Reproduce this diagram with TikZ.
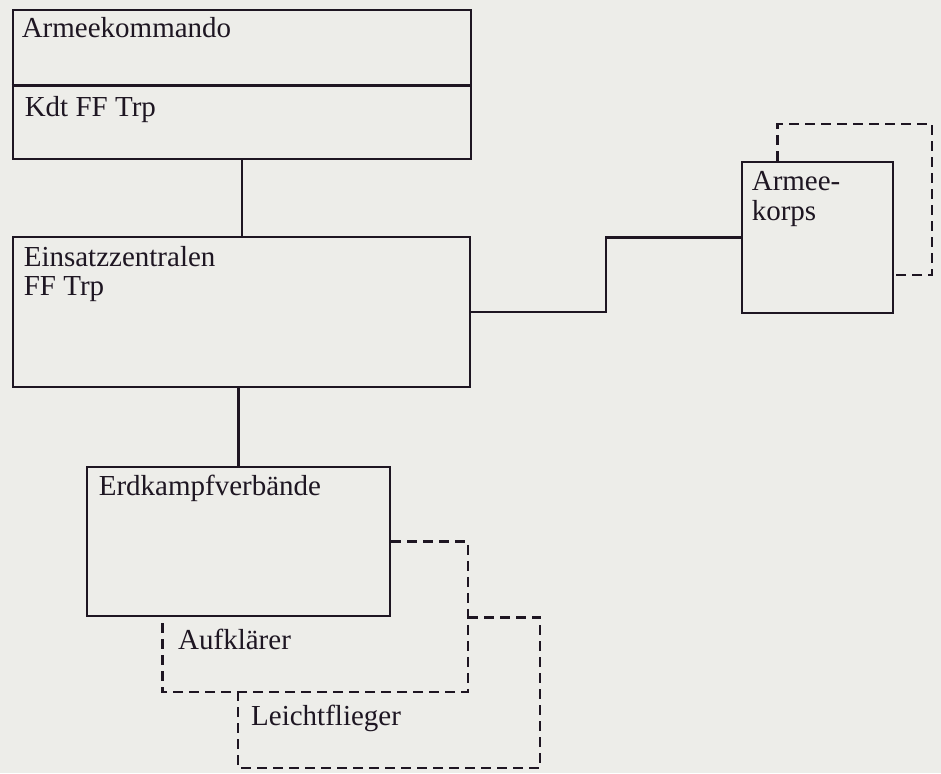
\documentclass[tikz,border=0pt]{standalone}
\usepackage{fontspec}
\setmainfont{Liberation Serif}
\usetikzlibrary{calc}
\definecolor{paper}{RGB}{237,237,233}
\definecolor{ink}{RGB}{30,22,34}
\begin{document}
\begin{tikzpicture}[x=1pt,y=-1pt,
  box/.style={draw=ink, line width=2.8pt, rectangle, inner sep=0pt},
  dbox/.style={draw=ink, line width=2.8pt, dash pattern=on 10pt off 6pt},
  conn/.style={draw=ink, line width=2.8pt},
  lbl/.style={anchor=base west, inner sep=0pt, text=ink, font=\fontsize{29}{31}\selectfont}]
\fill[paper] (0,0) rectangle (941,773);
\useasboundingbox (0,0) rectangle (941,773);

% boxes
\node[box, minimum width=458pt, minimum height=149pt] (ak) at (242,84.5) {};
\node[box, minimum width=457pt, minimum height=150pt] (ez) at (241.5,312) {};
\node[box, minimum width=151pt, minimum height=151pt] (korps) at (817.5,237.5) {};
\node[box, minimum width=303pt, minimum height=149pt] (ek) at (238.5,541.5) {};

% divider in Armeekommando box
\draw[conn] ([yshift=-77pt]ak.north west) -- ([yshift=-77pt]ak.north east);

% labels
\node[lbl] (t1) at ([shift={(10,29)}]ak.north west) {Armeekommando};
\node[lbl] (t2) at ([shift={(13,108)}]ak.north west) {Kdt FF Trp};
\node[lbl] (t3) at ([shift={(12,31)}]ez.north west) {Einsatzzentralen};
\node[lbl] (t4) at ([shift={(12,60)}]ez.north west) {FF Trp};
\node[lbl] (t5) at ([shift={(11,30)}]korps.north west) {Armee-};
\node[lbl] (t6) at ([shift={(11,60)}]korps.north west) {korps};
\node[lbl] (t7) at ([shift={(13,30)}]ek.north west) {Erdkampfverbände};

% solid connectors
\draw[conn] (ak.south) -- (ak.south |- ez.north);
\draw[conn] (ek.north |- ez.south) -- (ek.north);
\draw[conn] (ez.east) -| ($(ez.east)!.5!(korps.west)$) |- (korps.west);

% dashed box around Armeekorps
\coordinate (kNE) at (932,124);
\draw[dbox] ([xshift=37pt]korps.north west) |- (kNE) |- ([yshift=-37.5pt]korps.east);

% Aufklaerer dashed box
\coordinate (aufSE) at (468,692);
\draw[dbox] (ek.east) -| (aufSE) -| ([xshift=77pt]ek.south west);
\node[lbl] (t8) at (178,649) {Aufklärer};

% Leichtflieger dashed box
\coordinate (lfSE) at (540,768);
\coordinate (lfSW) at (238,768);
\draw[dbox] (aufSE |- ek.south) -| (lfSE) -| (lfSW |- aufSE);
\node[lbl] (t9) at (251,725) {Leichtflieger};
\end{tikzpicture}
\end{document}
